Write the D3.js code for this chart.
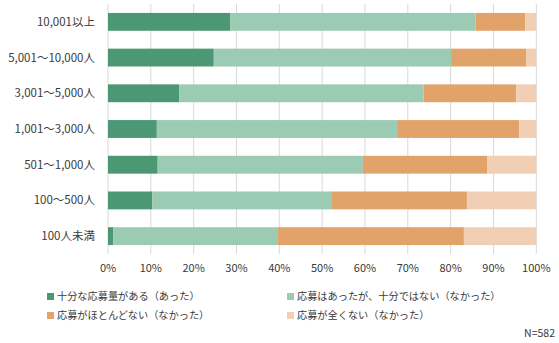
<!DOCTYPE html>
<html>
<head>
<meta charset="utf-8">
<script src="https://cdn.jsdelivr.net/npm/d3@7/dist/d3.min.js"></script>
<style>
  html, body { margin: 0; padding: 0; background: #fff; }
  svg { display: block; }
  text { font-family: "Noto Sans CJK JP", "Noto Sans", sans-serif; fill: #3a3a3a; }
</style>
</head>
<body>
<svg id="chart" width="559" height="343"></svg>
<script>
// Company size groups (top to bottom)
const categories = ["10,001以上", "5,001～10,000人", "3,001～5,000人", "1,001～3,000人", "501～1,000人", "100～500人", "100人未満"];

// Response shares (%) per group
const series = [
  { name: "十分な応募量がある（あった）",       values: [28.5, 24.7, 16.6, 11.4, 11.6, 10.3, 1.2] },
  { name: "応募はあったが、十分ではない（なかった）", values: [57.3, 55.4, 57.1, 56.1, 47.9, 41.8, 38.3] },
  { name: "応募がほとんどない（なかった）",     values: [11.6, 17.5, 21.6, 28.5, 29.0, 31.7, 43.6] },
  { name: "応募が全くない（なかった）",         values: [2.6, 2.4, 4.7, 4.0, 11.5, 16.2, 16.9] }
];

const colors = ["#4c9774", "#9ccbb4", "#e2a36b", "#f0cfb5"];
const tickValues = [0, 10, 20, 30, 40, 50, 60, 70, 80, 90, 100];
const sampleNote = "N=582";

const svg = d3.select("#chart");

const x = d3.scaleLinear().domain([0, 100]).range([108, 536.3]);
const y = d3.scaleBand().domain(categories).range([4, 254]).paddingInner(0.5).paddingOuter(0.25);

// Gridlines
svg.append("g")
  .selectAll("line")
  .data(tickValues)
  .join("line")
  .attr("x1", d => x(d)).attr("x2", d => x(d))
  .attr("y1", 4).attr("y2", 254)
  .attr("stroke", "#d9d9d9").attr("stroke-width", 1);

// Stacked bars
const rows = categories.map((c, i) => {
  const r = { category: c };
  series.forEach((s, j) => { r["s" + j] = s.values[i]; });
  return r;
});
const stack = d3.stack().keys(series.map((s, j) => "s" + j));
const layers = stack(rows);

svg.append("g")
  .selectAll("g")
  .data(layers)
  .join("g")
  .attr("fill", (d, j) => colors[j])
  .selectAll("rect")
  .data(d => d)
  .join("rect")
  .attr("x", d => x(d[0]))
  .attr("width", d => x(d[1]) - x(d[0]))
  .attr("y", d => y(d.data.category))
  .attr("height", y.bandwidth());

// Category labels
svg.append("g")
  .selectAll("text")
  .data(categories)
  .join("text")
  .attr("x", 95)
  .attr("y", d => y(d) + y.bandwidth() / 2)
  .attr("dy", "0.35em")
  .attr("text-anchor", "end")
  .attr("font-size", 11.5)
  .text(d => d);

// Percentage axis labels
svg.append("g")
  .selectAll("text")
  .data(tickValues)
  .join("text")
  .attr("x", d => x(d))
  .attr("y", 268)
  .attr("dy", "0.35em")
  .attr("text-anchor", "middle")
  .attr("font-size", 11)
  .text(d => d + "%");

// Legend (2 columns)
const legendPos = [[47, 296.5], [287, 296.5], [47, 315.5], [287, 315.5]];
const legend = svg.append("g")
  .selectAll("g")
  .data(series)
  .join("g")
  .attr("transform", (d, j) => `translate(${legendPos[j][0]},${legendPos[j][1]})`);
legend.append("rect")
  .attr("x", 0).attr("y", -3.5).attr("width", 7).attr("height", 7)
  .attr("fill", (d, j) => colors[j]);
legend.append("text")
  .attr("x", 10).attr("y", 0).attr("dy", "0.35em")
  .attr("font-size", 10.2)
  .text(d => d.name);

svg.append("text")
  .attr("x", 555).attr("y", 333).attr("dy", "0.35em")
  .attr("text-anchor", "end")
  .attr("font-size", 10.5)
  .text(sampleNote);
</script>
</body>
</html>
